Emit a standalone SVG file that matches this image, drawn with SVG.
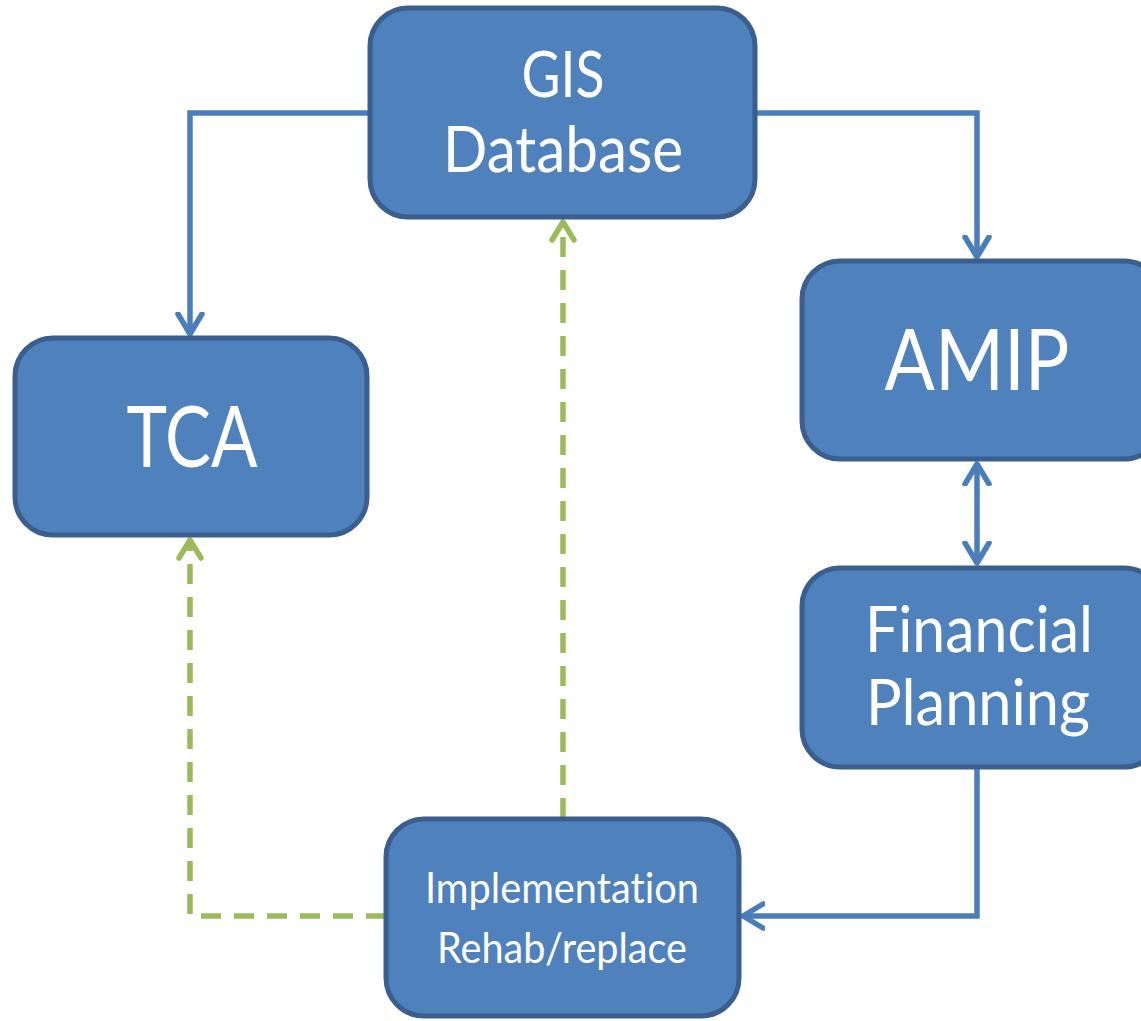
<svg xmlns="http://www.w3.org/2000/svg" width="1141" height="1021" viewBox="0 0 1141 1021">
<style>
.box{fill:#4f81bd;stroke:#3a5f8e;stroke-width:5}
.t{fill:#fff;font-family:Lato,"Open Sans","Liberation Sans",sans-serif;text-anchor:middle;font-variant-ligatures:none}
.c{fill:none;stroke:#4a7ebb;stroke-width:5.5}
.g{fill:none;stroke:#9bbb59;stroke-width:5.5;stroke-dasharray:20 13}
</style>
<defs>
<marker id="ab" markerUnits="userSpaceOnUse" markerWidth="40" markerHeight="40" refX="22" refY="14" orient="auto-start-reverse" viewBox="0 0 40 28">
<polyline points="2,2 22,14 2,26" fill="none" stroke="#4a7ebb" stroke-width="5.5" stroke-linecap="round" stroke-linejoin="round"/>
</marker>
<marker id="ag" markerUnits="userSpaceOnUse" markerWidth="40" markerHeight="40" refX="22" refY="14" orient="auto" viewBox="0 0 40 28">
<polyline points="4,3 22,14 4,25" fill="none" stroke="#9bbb59" stroke-width="5.5" stroke-linecap="round" stroke-linejoin="round"/>
</marker>
</defs>
<g id="connectors">
<polyline class="c" points="370,113 190,113 190,334" marker-end="url(#ab)"/>
<polyline class="c" points="755,113 977,113 977,257" marker-end="url(#ab)"/>
<line class="c" x1="977" y1="464" x2="977" y2="563" marker-start="url(#ab)" marker-end="url(#ab)"/>
<polyline class="c" points="977,768 977,916 743,916" marker-end="url(#ab)"/>
<polyline class="g" points="563,818 563,222" marker-end="url(#ag)"/>
<polyline class="g" points="386,916 190,916 190,540" marker-end="url(#ag)"/>
</g>
<g id="gis">
<rect class="box" x="370" y="8" width="385" height="209" rx="38"/>
<text class="t" x="563" y="97" font-size="64" textLength="83" lengthAdjust="spacingAndGlyphs">GIS</text>
<text class="t" x="563" y="172" font-size="64" textLength="240" lengthAdjust="spacingAndGlyphs">Database</text>
</g>
<g id="tca">
<rect class="box" x="15" y="338" width="352" height="197" rx="38"/>
<text class="t" x="192" y="467" font-size="86" textLength="131" lengthAdjust="spacingAndGlyphs">TCA</text>
</g>
<g id="amip">
<rect class="box" x="802" y="261" width="360" height="198" rx="38"/>
<text class="t" x="977" y="390" font-size="86" textLength="185" lengthAdjust="spacingAndGlyphs">AMIP</text>
</g>
<g id="financial">
<rect class="box" x="802" y="568" width="360" height="199" rx="38"/>
<text class="t" x="979" y="652" font-size="64" textLength="228" lengthAdjust="spacingAndGlyphs">Financial</text>
<text class="t" x="978" y="725" font-size="64" textLength="224" lengthAdjust="spacingAndGlyphs">Planning</text>
</g>
<g id="implementation">
<rect class="box" x="386" y="819" width="353" height="197" rx="38"/>
<text class="t" x="562" y="903" font-size="43" textLength="274" lengthAdjust="spacingAndGlyphs">Implementation</text>
<text class="t" x="562" y="963" font-size="43" textLength="250" lengthAdjust="spacingAndGlyphs">Rehab/replace</text>
</g>
</svg>
